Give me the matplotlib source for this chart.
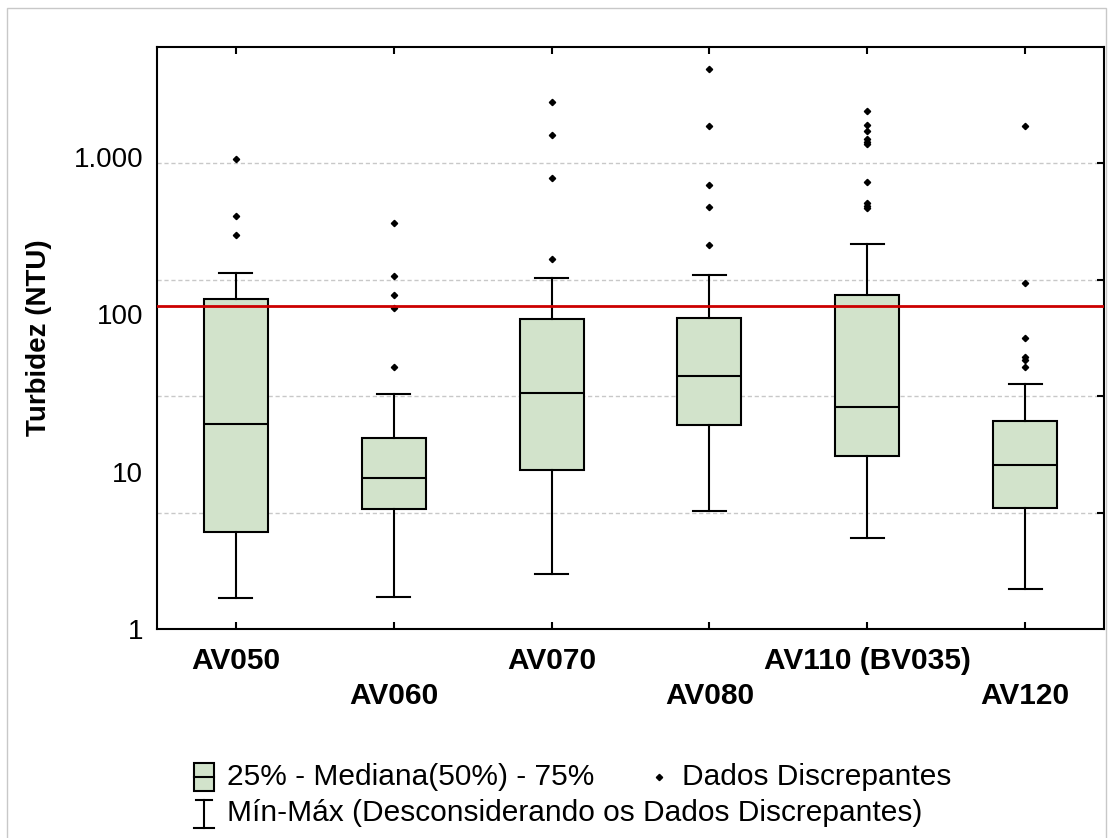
import matplotlib
matplotlib.use('Agg')
import matplotlib.pyplot as plt
from matplotlib.patches import Rectangle
from matplotlib.lines import Line2D
from matplotlib.ticker import FixedLocator, NullFormatter

plt.rcParams['font.family'] = ['Liberation Sans', 'DejaVu Sans']

# data (NTU, log scale)
sites = ['AV050', 'AV060', 'AV070', 'AV080', 'AV110 (BV035)', 'AV120']
q1 = [4.14, 5.81, 10.2, 19.9, 12.5, 5.84]
med = [20.1, 9.16, 31.4, 40.4, 25.6, 11.0]
q3 = [124.5, 16.3, 93.3, 94.3, 132, 21.1]
wlo = [1.58, 1.60, 2.23, 5.65, 3.78, 1.79]
whi = [182, 31.3, 169, 176.6, 280.5, 36.1]
outliers = [
    [973, 421, 319],
    [380, 175, 133, 110, 46.3],
    [2233, 1374, 732, 224],
    [3650, 1581, 660, 483, 275],
    [1960, 1603, 1473, 1304, 1254, 1213, 690, 507, 490, 471],
    [1585, 158, 70.5, 53.3, 51.6, 46.5],
]
limite = 113
ytick_vals = [1, 10, 100, 1000]
ytick_labels = ['1', '10', '100', '1.000']

W, H = 1108, 838
fig = plt.figure(figsize=(W / 100, H / 100), dpi=100)


def fx(px):
    return px / W


def fy(py):
    return 1 - py / H


# light frame around the whole figure
fig.patches.append(Rectangle((fx(7), fy(845)), fx(1106) - fx(7), fy(8) - fy(845),
                             transform=fig.transFigure, fill=False,
                             edgecolor='#c8c8c8', lw=1))

ax = fig.add_axes([fx(157), fy(629), fx(1104) - fx(157), fy(47) - fy(629)])

green = '#d2e3cb'
pos = list(range(1, len(sites) + 1))
stats = []
for i in range(len(sites)):
    stats.append(dict(med=med[i], q1=q1[i], q3=q3[i], whislo=wlo[i],
                      whishi=whi[i], fliers=outliers[i]))

ax.bxp(stats, positions=pos, widths=0.405, capwidths=0.21, patch_artist=True,
       boxprops=dict(facecolor=green, edgecolor='black', linewidth=1.5),
       medianprops=dict(color='black', linewidth=1.5),
       whiskerprops=dict(color='black', linewidth=1.5),
       capprops=dict(color='black', linewidth=1.5),
       flierprops=dict(marker='D', markersize=3.2, markerfacecolor='black',
                       markeredgecolor='black', linestyle='none'))

ax.axhline(limite, color='#cc0000', lw=2, zorder=5)

ax.set_yscale('log')
ax.set_ylim(1, 5000)
ax.set_xlim(0.5, len(sites) + 0.5)

# y axis: labels at decades, gridlines / right ticks at 5 equal log steps
grid_vals = [5000 ** (k / 5) for k in range(1, 5)]
ax.yaxis.set_major_locator(FixedLocator(ytick_vals))
ax.set_yticklabels(ytick_labels, fontsize=20)
ax.yaxis.set_minor_locator(FixedLocator(grid_vals))
ax.yaxis.set_minor_formatter(NullFormatter())
ax.tick_params(axis='y', which='major', left=True, right=False, length=0, pad=10)
ax.tick_params(axis='y', which='minor', left=False, right=True, direction='in',
               length=5, width=1.5)
ax.grid(which='minor', axis='y', color='#c8c8c8', linestyle=(0, (3, 2)), lw=1)
ax.set_axisbelow(True)

# staggered site labels
ax.set_xticks(pos)
ax.set_xticklabels(sites, fontsize=21.5, fontweight='bold')
ax.tick_params(axis='x', top=True, bottom=True, direction='in', length=5, width=1.5, pad=13)
for t in ax.xaxis.get_major_ticks()[1::2]:
    t.set_pad(38)

for s in ax.spines.values():
    s.set_linewidth(1.5)

fig.text(fx(39), fy(338), 'Turbidez (NTU)', rotation=90, fontsize=20,
         fontweight='bold', ha='center', va='center')

# legend drawn by hand
fs_leg = 21.5
fig.patches.append(Rectangle((fx(194), fy(791)), fx(214) - fx(194), fy(763) - fy(791),
                             transform=fig.transFigure, facecolor=green,
                             edgecolor='black', lw=1.5))
fig.lines.append(Line2D([fx(194), fx(214)], [fy(777), fy(777)],
                        transform=fig.transFigure, color='black', lw=1.5))
fig.text(fx(227), fy(777), '25% - Mediana(50%) - 75%', fontsize=fs_leg, va='center')
fig.lines.append(Line2D([fx(659)], [fy(777)], transform=fig.transFigure,
                        marker='D', markersize=3.2, color='black', linestyle='none'))
fig.text(fx(682), fy(777), 'Dados Discrepantes', fontsize=fs_leg, va='center')

fig.lines.append(Line2D([fx(204), fx(204)], [fy(800), fy(828)],
                        transform=fig.transFigure, color='black', lw=1.5))
fig.lines.append(Line2D([fx(196), fx(212)], [fy(800), fy(800)],
                        transform=fig.transFigure, color='black', lw=1.5))
fig.lines.append(Line2D([fx(194), fx(214)], [fy(828), fy(828)],
                        transform=fig.transFigure, color='black', lw=1.5))
fig.text(fx(227), fy(813), 'Mín-Máx (Desconsiderando os Dados Discrepantes)',
         fontsize=fs_leg, va='center')

fig.savefig('out.png', dpi=100)
